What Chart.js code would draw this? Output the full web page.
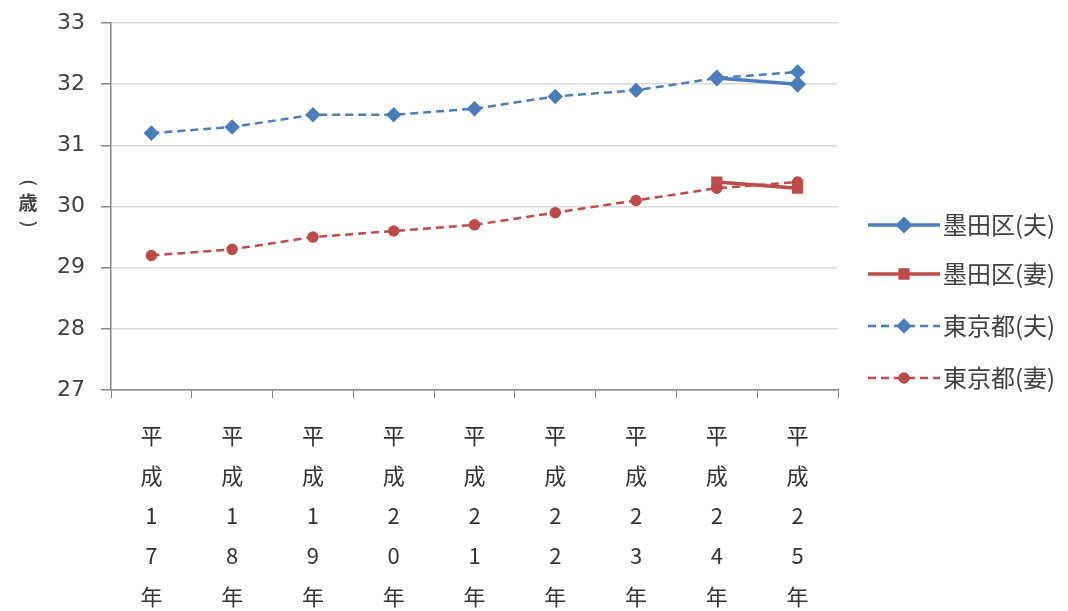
<!DOCTYPE html>
<html lang="ja">
<head>
<meta charset="UTF-8">
<title>平均初婚年齢</title>
<script src="https://cdn.jsdelivr.net/npm/chart.js@4"></script>
<style>
  html, body { margin: 0; padding: 0; background: #fff; }
  #wrap { width: 1068px; height: 611px; position: relative; }
</style>
</head>
<body>
<div id="wrap"><canvas id="myChart" width="1068" height="611"></canvas></div>
<script>
// categories (年度)
const years = ['平成17年', '平成18年', '平成19年', '平成20年', '平成21年', '平成22年', '平成23年', '平成24年', '平成25年'];
// series values (歳)
const sumidaHusband = [null, null, null, null, null, null, null, 32.1, 32.0];
const sumidaWife    = [null, null, null, null, null, null, null, 30.4, 30.3];
const tokyoHusband  = [31.2, 31.3, 31.5, 31.5, 31.6, 31.8, 31.9, 32.1, 32.2];
const tokyoWife     = [29.2, 29.3, 29.5, 29.6, 29.7, 29.9, 30.1, 30.3, 30.4];
const yTicks = [27, 28, 29, 30, 31, 32, 33];

const BLUE = '#4a7ebb';
const RED = '#be4b48';
const CJK = '"Noto Sans CJK JP", "Noto Sans", sans-serif';

// legend drawn on the right like the original (line sample + marker + label)
const sideLegend = {
    id: 'sideLegend',
    afterDraw(chart) {
        const ctx = chart.ctx;
        const rows = [225, 274, 326, 378];
        chart.data.datasets.forEach((ds, i) => {
            const y = rows[i];
            ctx.save();
            ctx.strokeStyle = ds.borderColor;
            ctx.lineWidth = ds.borderWidth;
            ctx.setLineDash(ds.borderDash || []);
            ctx.beginPath();
            ctx.moveTo(868, y);
            ctx.lineTo(940, y);
            ctx.stroke();
            ctx.setLineDash([]);
            Chart.helpers.drawPoint(ctx, {
                pointStyle: ds.pointStyle,
                radius: ds.pointRadius,
                borderWidth: 1
            }, 904, y);
            ctx.fillStyle = ds.borderColor;
            ctx.fill();
            ctx.fillStyle = '#404040';
            ctx.font = '24px ' + CJK;
            ctx.textBaseline = 'middle';
            ctx.textAlign = 'left';
            ctx.fillText(ds.label, 943, y);
            ctx.restore();
        });
        // y axis title（歳）, written vertically
        ctx.save();
        ctx.fillStyle = '#404040';
        ctx.textAlign = 'center';
        ctx.textBaseline = 'middle';
        ctx.font = 'bold 19px ' + CJK;
        ctx.fillText('歳', 28, 203);
        ctx.font = '20px "DejaVu Sans", sans-serif';
        [['(', 183], [')', 224]].forEach(([ch, y]) => {
            ctx.save();
            ctx.translate(27, y);
            ctx.rotate(Math.PI / 2);
            ctx.fillText(ch, 0, 0);
            ctx.restore();
        });
        ctx.restore();
    }
};

const ctx = document.getElementById('myChart').getContext('2d');
const myChart = new Chart(ctx, {
    type: 'line',
    data: {
        labels: years.map(s => s.split('')),
        datasets: [{
            label: '墨田区(夫)',
            data: sumidaHusband,
            borderColor: BLUE,
            backgroundColor: BLUE,
            borderWidth: 3.5,
            pointStyle: 'rectRot',
            pointRadius: 6
        }, {
            label: '墨田区(妻)',
            data: sumidaWife,
            borderColor: RED,
            backgroundColor: RED,
            borderWidth: 3.5,
            pointStyle: 'rect',
            pointRadius: 5.5
        }, {
            label: '東京都(夫)',
            data: tokyoHusband,
            borderColor: BLUE,
            backgroundColor: BLUE,
            borderWidth: 2.5,
            borderDash: [8, 5],
            pointStyle: 'rectRot',
            pointRadius: 6
        }, {
            label: '東京都(妻)',
            data: tokyoWife,
            borderColor: RED,
            backgroundColor: RED,
            borderWidth: 2.5,
            borderDash: [8, 5],
            pointStyle: 'circle',
            pointRadius: 4.5
        }]
    },
    options: {
        responsive: false,
        animation: false,
        layout: { padding: { top: 0, right: 230, left: 0, bottom: 0 } },
        plugins: {
            legend: { display: false },
            tooltip: { enabled: false }
        },
        elements: { line: { tension: 0 } },
        scales: {
            x: {
                offset: true,
                grid: {
                    offset: true,
                    drawOnChartArea: false,
                    drawTicks: true,
                    tickLength: 8,
                    color: '#868686'
                },
                border: { color: '#868686', width: 1.5 },
                ticks: {
                    maxRotation: 0,
                    autoSkip: false,
                    padding: 18,
                    color: '#333333',
                    font: { family: CJK, size: 22, lineHeight: 1.82 }
                },
                afterFit(scale) { scale.height = 221; }
            },
            y: {
                min: 27,
                max: 33,
                afterBuildTicks(scale) { scale.ticks = yTicks.map(v => ({ value: v })); },
                grid: {
                    color: '#d9d9d9',
                    lineWidth: 1.5,
                    tickLength: 10,
                    tickColor: '#868686'
                },
                border: { color: '#868686', width: 1.5 },
                ticks: {
                    padding: 16,
                    color: '#404040',
                    font: { family: '"DejaVu Sans", sans-serif', size: 22, lineHeight: 0.64 }
                },
                afterFit(scale) { scale.width = 111; }
            }
        }
    },
    plugins: [sideLegend]
});
</script>
</body>
</html>
